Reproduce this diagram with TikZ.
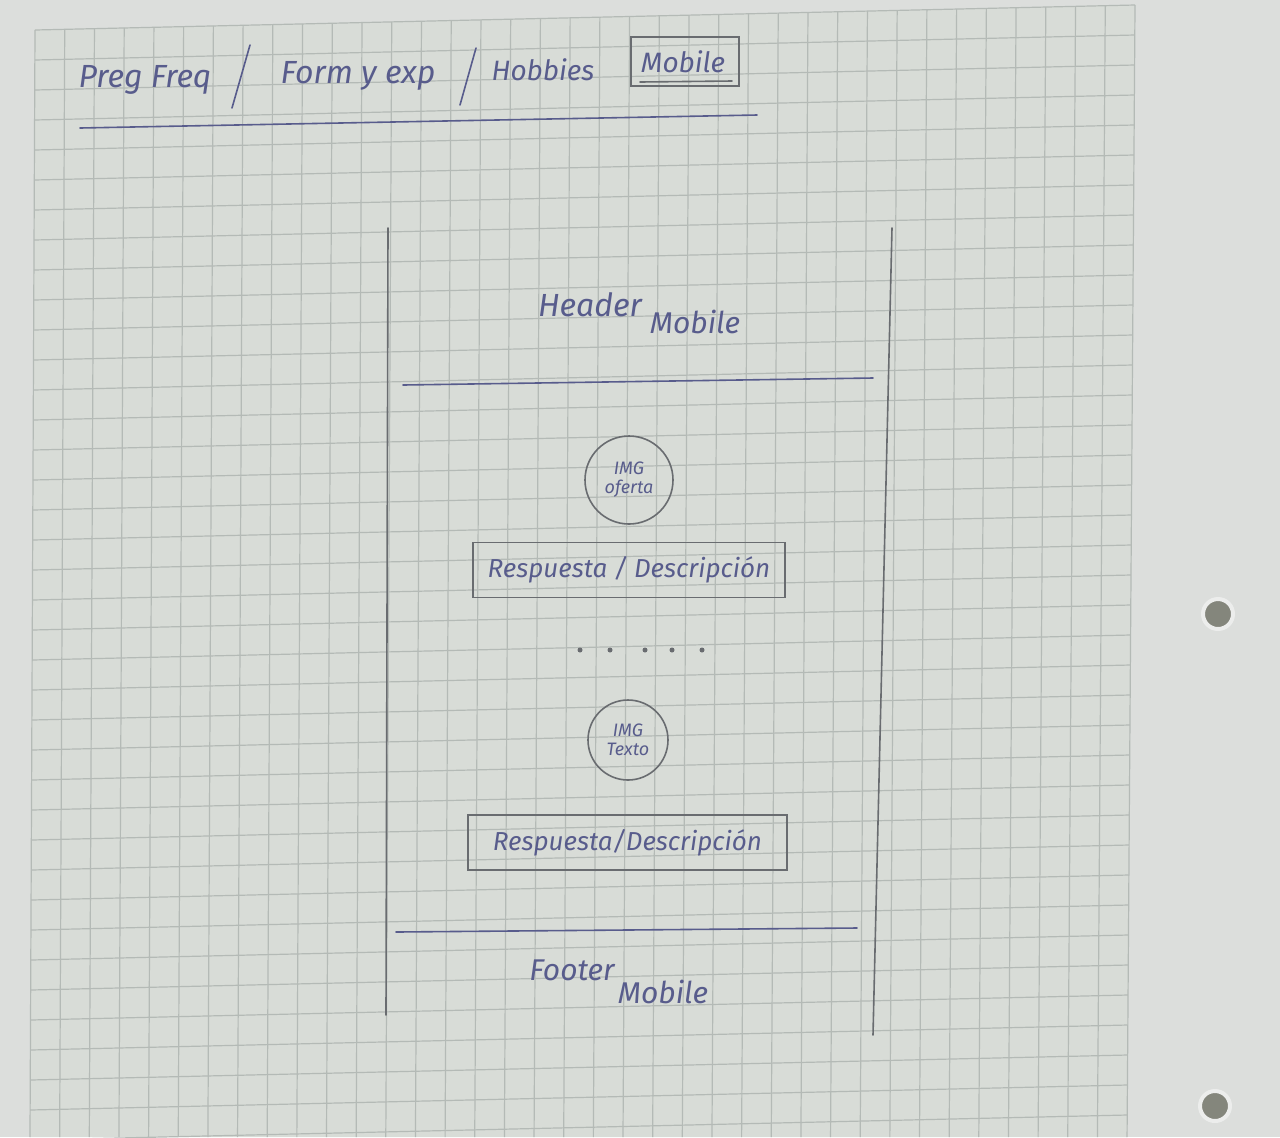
\documentclass[tikz,border=0pt]{standalone}
\usepackage{fontspec}
\setmainfont{Fira Sans}
\definecolor{paper}{RGB}{216,220,215}
\definecolor{margin}{RGB}{220,222,220}
\definecolor{gridline}{RGB}{180,186,182}
\definecolor{inkblue}{RGB}{88,92,140}
\definecolor{pencilgray}{RGB}{105,108,112}
\definecolor{holedark}{RGB}{132,134,124}
\definecolor{holerim}{RGB}{236,237,236}
\begin{document}
\begin{tikzpicture}[x=0.5pt,y=-0.5pt,
  ink/.style={draw=inkblue,line width=0.8pt,line cap=round},
  pencil/.style={draw=pencilgray,line width=0.8pt,line cap=round},
  hand/.style={text=inkblue,font=\itshape,inner sep=0pt},
  boxtext/.style={hand,font=\itshape\fontsize{13}{15}\selectfont},
  answerbox/.style={draw=pencilgray,line width=0.8pt,minimum height=27.5pt,inner sep=0pt},
  imgcircle/.style={circle,draw=pencilgray,line width=0.8pt,inner sep=0pt,align=center,
    text=inkblue,font=\itshape\fontsize{9}{9.5}\selectfont},
  dot/.style={circle,fill=pencilgray,inner sep=0pt,minimum size=2.5pt},
  hole/.style={circle,fill=holedark,draw=holerim,line width=2pt,inner sep=0pt,minimum size=15pt}]

% sheet and bounding box
\fill[margin] (0,0) rectangle (1280,1137);
\useasboundingbox (0,0) rectangle (1280,1137);
\fill[paper] (35,30) -- (1135,5) -- (1127,1137) -- (30,1137) -- cycle;

% squared ruling
\foreach \i in {0,...,37}{
  \draw[gridline,line width=0.6pt] ({35+29.73*\i},{30-0.6757*\i}) -- ({30+29.65*\i},1137);
}
\foreach \k in {0,...,37}{
  \draw[gridline,line width=0.6pt] ({35-0.135*\k},{30+30*\k}) -- ({1135-0.216*\k},{5+30*\k});
}

% punch holes
\node[hole] (hole1) at (1218,614) {};
\node[hole] (hole2) at (1215,1106) {};

% navigation bar
\node[hand,font=\itshape\fontsize{16}{18}\selectfont] (preg) at (145,80) {Preg Freq};
\coordinate (s1a) at (250,45); \coordinate (s1b) at (232,108);
\draw[ink] (s1a) -- (s1b);
\node[hand,font=\itshape\fontsize{16}{18}\selectfont] (form) at (358,76) {Form y exp};
\coordinate (s2a) at (476,48); \coordinate (s2b) at (460,105);
\draw[ink] (s2a) -- (s2b);
\node[hand,font=\itshape\fontsize{14}{16}\selectfont] (hobbies) at (543,70) {Hobbies};
\node[hand,font=\itshape\fontsize{14}{16}\selectfont] (mobile) at (683,62) {Mobile};
\coordinate (mb1) at (631,37); \coordinate (mb2) at (739,86);
\draw[ink,draw=pencilgray] (mb1) rectangle (mb2);
\coordinate (mi1) at (640,82); \coordinate (mi2) at (732,81);
\draw[ink,draw=pencilgray] (mi1) -- (mi2);
\coordinate (nav1) at (80,128); \coordinate (nav2) at (757,115);
\draw[ink] (nav1) -- (nav2);

% phone outline
\coordinate (pl1) at (388,228); \coordinate (pl2) at (386,1015);
\coordinate (pr1) at (892,228); \coordinate (pr2) at (873,1035);
\draw[pencil] (pl1) -- (pl2);
\draw[pencil] (pr1) -- (pr2);

% header
\node[hand,font=\itshape\fontsize{16}{18}\selectfont] (header) at (590,305) {Header};
\node[hand,font=\itshape\fontsize{15}{17}\selectfont] (headermob) at (695,322) {Mobile};
\coordinate (h1) at (403,385); \coordinate (h2) at (873,378);
\draw[ink] (h1) -- (h2);

% first item
\node[imgcircle,minimum size=44pt] (img1) at (629,480) {IMG\\oferta};
\node[answerbox,minimum width=156pt] (resp1) at (629,570) {};
\node[boxtext] (resp1t) at (resp1) {Respuesta / Descripción};

% ellipsis
\node[dot] (d1) at (580,650) {};
\node[dot] (d2) at (610,650) {};
\node[dot] (d3) at (645,650) {};
\node[dot] (d4) at (672,650) {};
\node[dot] (d5) at (702,650) {};

% second item
\node[imgcircle,minimum size=40pt] (img2) at (628,740) {IMG\\Texto};
\node[answerbox,minimum width=159.5pt] (resp2) at (627.5,842.5) {};
\node[boxtext] (resp2t) at (resp2) {Respuesta/Descripción};

% footer
\coordinate (f1) at (396,932); \coordinate (f2) at (857,928);
\draw[ink] (f1) -- (f2);
\node[hand,font=\itshape\fontsize{15}{17}\selectfont] (footer) at (572,970) {Footer};
\node[hand,font=\itshape\fontsize{15}{17}\selectfont] (footermob) at (663,992) {Mobile};

\end{tikzpicture}
\end{document}
